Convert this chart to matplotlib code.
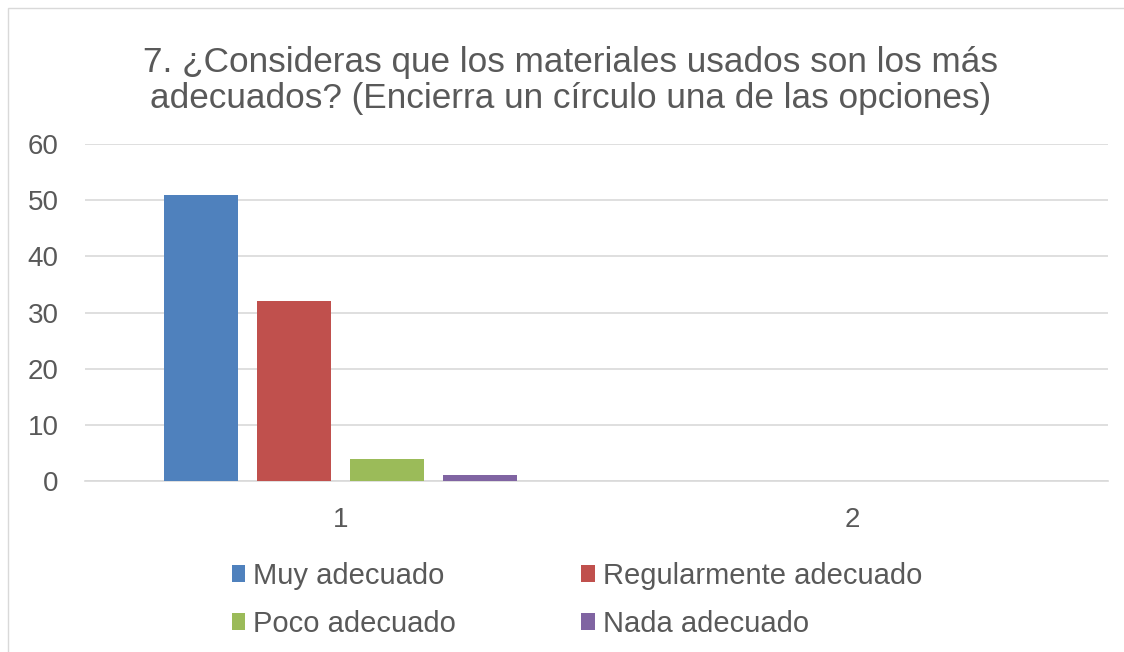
import numpy as np
import matplotlib.pyplot as plt
from matplotlib.patches import Rectangle

plt.rcParams['font.family'] = ['Liberation Sans', 'DejaVu Sans']

# Datos
categorias = ['1', '2']
series = ['Muy adecuado', 'Regularmente adecuado', 'Poco adecuado', 'Nada adecuado']
muy = [51, 0]
regular = [32, 0]
poco = [4, 0]
nada = [1, 0]
colores = ['#4F81BD', '#C0504D', '#9BBB59', '#8064A2']

gris = '#595959'

fig = plt.figure(figsize=(11.24, 6.52), dpi=100)
ax = fig.add_axes([0.0756, 0.2623, 0.9102, 0.5167])

x = np.arange(1, len(categorias) + 1)
ancho = 0.145
paso = 0.182
valores = [muy, regular, poco, nada]
barras = []
for i, (nombre, vals) in enumerate(zip(series, valores)):
    b = ax.bar(x + (i - 1.5) * paso, vals, width=ancho, color=colores[i], label=nombre, zorder=3)
    barras.append(b)

ax.set_xlim(0.5, 2.5)
ax.set_ylim(0, 60)
ax.set_yticks(range(0, 61, 10))
ax.set_xticks(x)
ax.set_xticklabels(categorias)
ax.grid(axis='y', color='#D9D9D9', linewidth=1.2, zorder=0)
for s in ['top', 'right', 'left']:
    ax.spines[s].set_visible(False)
ax.spines['bottom'].set_color('#D9D9D9')
ax.spines['bottom'].set_linewidth(1.2)
ax.tick_params(axis='both', length=0, labelsize=20, labelcolor=gris)
ax.tick_params(axis='x', pad=19)
ax.tick_params(axis='y', pad=19)

fig.text(0.508, 0.876, '7. ¿Consideras que los materiales usados son los más\nadecuados? (Encierra un círculo una de las opciones)',
         ha='center', va='center', fontsize=25.3, color=gris, linespacing=1.12)

# orden por filas: Muy | Regular / Poco | Nada
orden = [0, 2, 1, 3]
fig.legend([barras[i] for i in orden], [series[i] for i in orden],
           loc='center', bbox_to_anchor=(0.5133, 0.080), ncol=2, frameon=False,
           fontsize=21, labelcolor=gris, handlelength=0.45, handleheight=0.48,
           handletextpad=0.28, columnspacing=4.3, labelspacing=0.69)

# borde del gráfico
fig.patches.append(Rectangle((0.007, -0.01), 1.0, 0.9977, transform=fig.transFigure,
                             fill=False, edgecolor='#D9D9D9', linewidth=1.0))

fig.savefig('out.png', dpi=100)
